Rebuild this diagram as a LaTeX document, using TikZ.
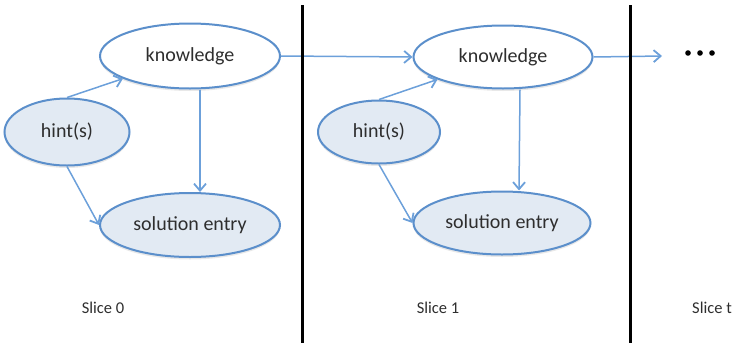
\documentclass[tikz,border=0pt]{standalone}
\usepackage{fontspec}
\setmainfont{Carlito}
\usetikzlibrary{shapes.geometric,arrows.meta,shadows}
\definecolor{edgeblue}{HTML}{5B8FCB}
\definecolor{arrowblue}{HTML}{6CA0DA}
\definecolor{fillblue}{HTML}{E2EAF3}
\definecolor{txt}{HTML}{2E2E2E}
\tikzset{
  state/.style={ellipse, draw=edgeblue, line width=2pt, inner sep=0pt, text=txt,
    font=\fontsize{20}{23}\selectfont,
    drop shadow={opacity=0.18, shadow xshift=0pt, shadow yshift=-2.5pt}},
  obs/.style={state, fill=fillblue},
  hid/.style={state, fill=white},
  conn/.style={draw=arrowblue, line width=1.5pt, -{Straight Barb[length=7pt,width=12pt,line width=1.8pt]}},
  divider/.style={draw=black, line width=3pt},
  slicelabel/.style={text=txt, font=\fontsize{16.5}{19}\selectfont, inner sep=0pt}
}
\begin{document}
\begin{tikzpicture}[x=1pt,y=-1pt]
\useasboundingbox (0,0) rectangle (735,343);
% slice 0
\node[hid, minimum width=180pt, minimum height=65pt] (k0) at (190,56) {knowledge};
\node[obs, minimum width=125pt, minimum height=67pt] (h0) at (67,132) {hint(s)};
\node[obs, minimum width=180pt, minimum height=64pt] (s0) at (190,225) {solution entry};
% slice 1
\node[hid, minimum width=179pt, minimum height=63pt] (k1) at (503,57) {knowledge};
\node[obs, minimum width=122pt, minimum height=63pt] (h1) at (379,132) {hint(s)};
\node[obs, minimum width=177pt, minimum height=63pt] (s1) at (502,223) {solution entry};
\coordinate (next) at (662,56);
% connectors
\draw[conn] (h0.north) -- (k0);
\draw[conn] (h0.south) -- (s0.west);
\draw[conn] ([xshift=10pt]k0.south) -- ([xshift=10pt]s0.north);
\draw[conn] (h1.north) -- (k1);
\draw[conn] (h1.south) -- (s1.west);
\draw[conn] ([xshift=17pt]k1.south) -- ([xshift=17pt]s1.north);
\draw[conn] (k0.east) -- (k1.west);
\draw[conn] (k1.east) -- (next);
% dividers
\coordinate (d1t) at (302,5);
\coordinate (d1b) at (302,343);
\coordinate (d2t) at (630,5);
\coordinate (d2b) at (630,343);
\draw[divider] (d1t) -- (d1b);
\draw[divider] (d2t) -- (d2b);
% dots
\fill[black] (688,53) circle (2.8) (700,53) circle (2.8) (712,53) circle (2.8);
% labels
\node[slicelabel] (l0) at (103,308) {Slice 0};
\node[slicelabel] (l1) at (438,308) {Slice 1};
\node[slicelabel, anchor=west] (lt) at (692,308) {Slice t};
\end{tikzpicture}
\end{document}
